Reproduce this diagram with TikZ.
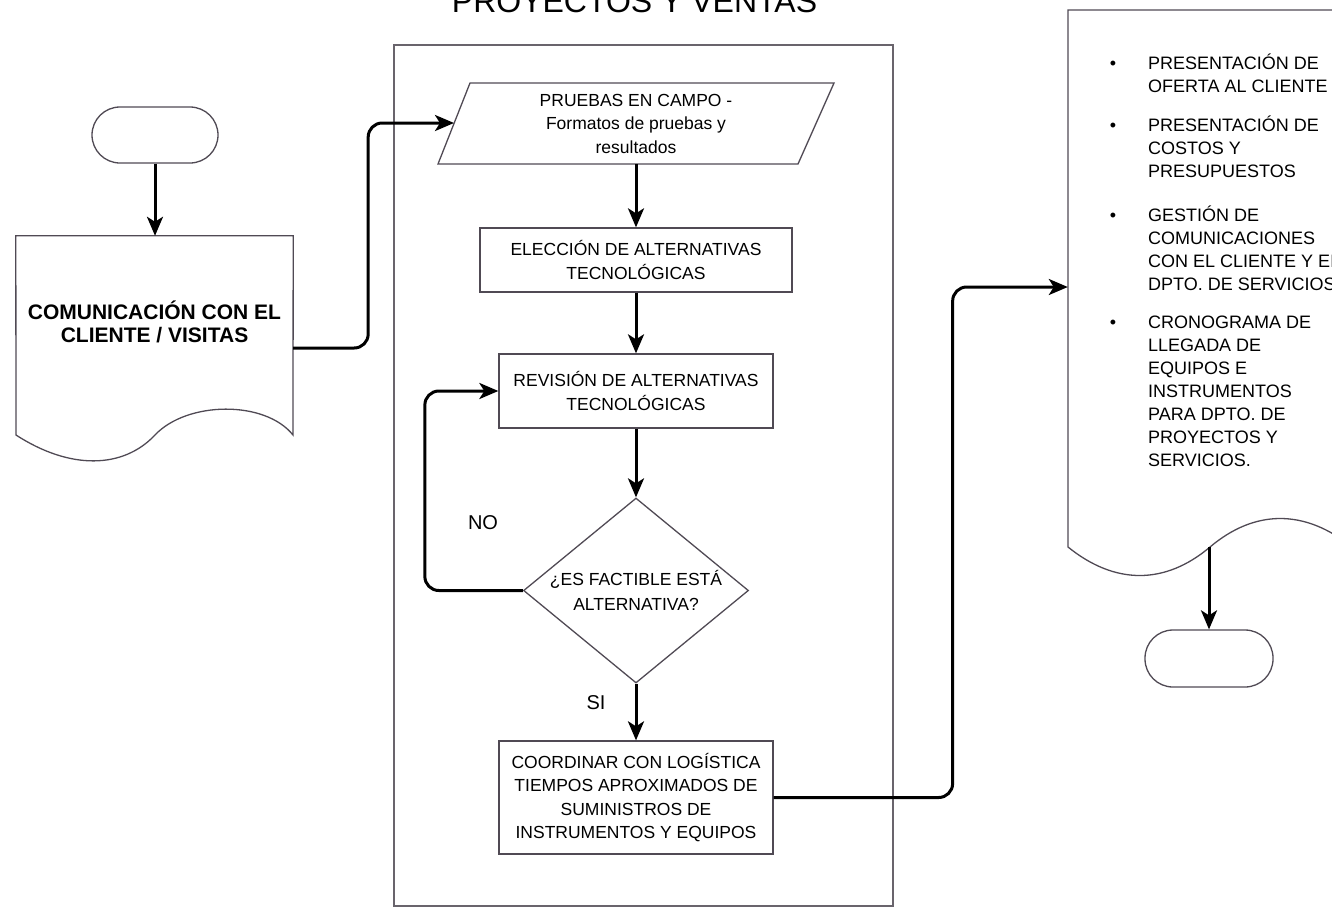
\documentclass[tikz,border=0pt]{standalone}
\usepackage{fontspec}
\setmainfont{Liberation Sans}
\usetikzlibrary{shapes.geometric,arrows.meta}

\definecolor{edge}{RGB}{80,74,84}
\definecolor{lane}{RGB}{105,100,108}

\begin{document}
\begin{tikzpicture}[x=1pt,y=-1pt,
  outline/.style={draw=edge,line width=1.3pt},
  hidden/.style={rectangle,inner sep=0pt},
  procbox/.style={outline,rectangle,inner sep=0pt,align=center,
    font=\fontsize{17.5}{23.5}\selectfont},
  decision/.style={outline,diamond,aspect=1.2,inner sep=0pt,align=center,
    minimum width=225,minimum height=185,font=\fontsize{17.5}{24.5}\selectfont},
  terminal/.style={outline,rectangle,rounded corners=28pt,inner sep=0pt},
  flow/.style={line width=3pt,black,rounded corners=14pt,
    -{Stealth[length=19pt,width=16pt,inset=5pt]}},
  lbl/.style={inner sep=0pt,font=\fontsize{20}{24}\selectfont},
  item/.style={anchor=north west,inner sep=0pt,align=left,
    font=\fontsize{18}{23}\selectfont},
  dot/.style={anchor=base,inner sep=0pt,font=\fontsize{18}{23}\selectfont}
]
\useasboundingbox (0,0) rectangle (1332,908);
\clip (0,0) rectangle (1332,908);

% swimlane of the projects area
\node[hidden,draw=lane,line width=1.2pt,minimum width=499,minimum height=861]
  (lane) at (643.5,475.5) {};
\node[anchor=base,inner sep=0pt,font=\fontsize{32}{36}\selectfont]
  (title) at (634.5,12) {PROYECTOS Y VENTAS};

% start terminal and client document
\node[terminal,minimum width=126,minimum height=56] (lterm) at (155,135) {};
\node[hidden,minimum width=277,minimum height=199] (ldoc) at (154.5,335.5) {};
\draw[outline] (16,435) -- (ldoc.north west) -- (ldoc.north east) -- (293,435)
  .. controls (265,400) and (187,401) .. (155,435)
  .. controls (123,469) and (70,470) .. (16,435) -- cycle;
\node[inner sep=0pt,align=center,font=\bfseries\fontsize{21}{23}\selectfont]
  (ldoctext) at (154.5,321.5) {COMUNICACIÓN CON EL\\CLIENTE / VISITAS};

% field tests (input/output parallelogram)
\draw[outline] (470,83) -- (834,83) -- (798,164) -- (438,164) -- cycle;
\node[hidden,minimum width=328,minimum height=81,align=center,
  font=\fontsize{17.5}{23.5}\selectfont]
  (pru) at (636,123.5) {PRUEBAS EN CAMPO -\\Formatos de pruebas y\\resultados};
\coordinate (pruin) at (454,123);

% process steps
\node[procbox,minimum width=312,minimum height=64] (elec) at (636,260)
  {ELECCIÓN DE ALTERNATIVAS\\TECNOLÓGICAS};
\node[procbox,minimum width=274,minimum height=74] (rev) at (636,391)
  {REVISIÓN DE ALTERNATIVAS\\TECNOLÓGICAS};
\node[decision] (dia) at (636,590.5) {¿ES FACTIBLE ESTÁ\\ALTERNATIVA?};
\node[procbox,minimum width=274,minimum height=113] (coord) at (636,797.5)
  {COORDINAR CON LOGÍSTICA\\TIEMPOS APROXIMADOS DE\\SUMINISTROS DE\\INSTRUMENTOS Y EQUIPOS};
\node[lbl] (no) at (483,523) {NO};
\node[lbl] (si) at (596,703) {SI};

% output document and end terminal
\node[hidden,minimum width=292,minimum height=537] (rdoc) at (1214,278.5) {};
\draw[outline] (1360,10) -- (1068,10) -- (1068,547)
  .. controls (1115,585) and (1165,585) .. (1210,547)
  .. controls (1255,509) and (1305,509) .. (1352,547) -- (1352,10);
\node[terminal,minimum width=128,minimum height=57] (rterm) at (1209,658.5) {};

\node[dot] (bul1) at (1113,69.5) {•};
\node[item] (it1) at (1148,53.4) {\strut PRESENTACIÓN DE\\OFERTA AL CLIENTE};
\node[dot] (bul2) at (1113,131.5) {•};
\node[item] (it2) at (1148,115.4) {\strut PRESENTACIÓN DE\\COSTOS Y\\PRESUPUESTOS};
\node[dot] (bul3) at (1113,221.5) {•};
\node[item] (it3) at (1148,205.4) {\strut GESTIÓN DE\\COMUNICACIONES\\CON EL CLIENTE Y EL\\DPTO. DE SERVICIOS};
\node[dot] (bul4) at (1113,328.5) {•};
\node[item] (it4) at (1148,312.4) {\strut CRONOGRAMA DE\\LLEGADA DE\\EQUIPOS E\\INSTRUMENTOS\\PARA DPTO. DE\\PROYECTOS Y\\SERVICIOS.};

% connectors
\draw[flow] (lterm.south) -- (lterm.south |- ldoc.north);
\draw[flow] ([yshift=-12.5pt]ldoc.east) -- ++(75,0) |- (pruin);
\draw[flow] (pru.south) -- (elec.north);
\draw[flow] (elec.south) -- (rev.north);
\draw[flow] (rev.south) -- (dia.north);
\draw[flow] (dia.west) -- ++(-98,0) |- (rev.west);
\draw[flow] (dia.south) -- (coord.north);
\draw[flow] (coord.east) -- ++(179,0) |- ([yshift=-8.5pt]rdoc.west);
\draw[flow] (rterm.north |- rdoc.south) -- (rterm.north);
\end{tikzpicture}
\end{document}
